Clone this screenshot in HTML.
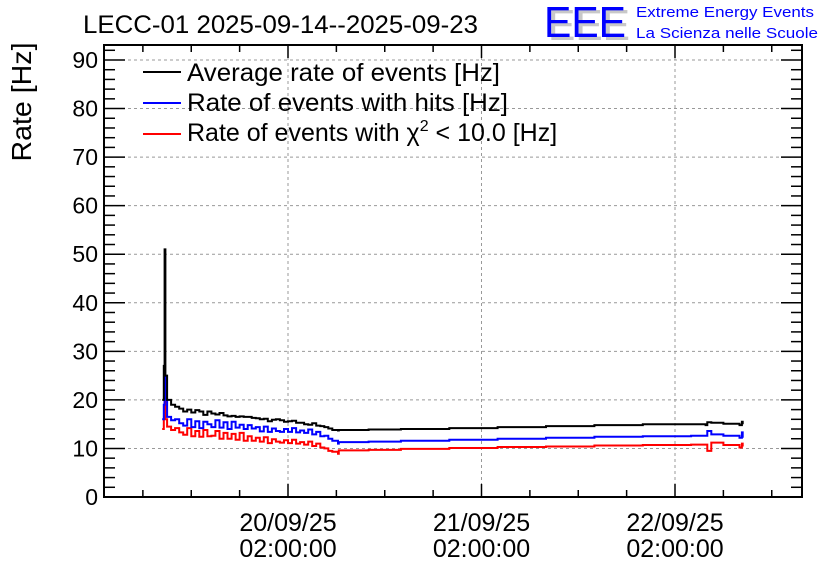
<!DOCTYPE html>
<html><head><meta charset="utf-8"><style>
html,body{margin:0;padding:0;background:#fff}
svg{display:block;font-family:"Liberation Sans",sans-serif}
</style></head><body>
<svg id="chart" width="836" height="572" viewBox="0 0 836 572">
<text x="83" y="33" font-size="25" textLength="395" lengthAdjust="spacingAndGlyphs">LECC-01 2025-09-14--2025-09-23</text>
<g>
<text x="548" y="40" font-size="44" fill="#c8c8c8" textLength="82" lengthAdjust="spacingAndGlyphs">EEE</text>
<text x="544" y="37" font-size="44" fill="#0000ff" textLength="82" lengthAdjust="spacingAndGlyphs">EEE</text>
<text x="636" y="17" font-size="14.5" fill="#0000ff" textLength="178" lengthAdjust="spacingAndGlyphs">Extreme Energy Events</text>
<text x="636" y="38" font-size="14.5" fill="#0000ff" textLength="182" lengthAdjust="spacingAndGlyphs">La Scienza nelle Scuole</text>
</g>
<text transform="translate(31,102) rotate(-90)" text-anchor="middle" font-size="28" textLength="119" lengthAdjust="spacingAndGlyphs">Rate [Hz]</text>
<g id="grid"></g><g id="axes"></g><g id="series"></g>
<g>
<g><line x1="143" y1="72" x2="181" y2="72" stroke="#000" stroke-width="2"/><text x="187" y="81" font-size="25" textLength="313" lengthAdjust="spacingAndGlyphs">Average rate of events [Hz]</text></g>
<g><line x1="143" y1="103" x2="181" y2="103" stroke="#00f" stroke-width="2"/><text x="187" y="111" font-size="25" textLength="321" lengthAdjust="spacingAndGlyphs">Rate of events with hits [Hz]</text></g>
<g><line x1="143" y1="134" x2="181" y2="134" stroke="#f00" stroke-width="2"/><text x="187" y="141" font-size="25">Rate of events with χ<tspan font-size="16" dy="-10">2</tspan><tspan dy="10"> &lt; 10.0 [Hz]</tspan></text></g>
</g>
</svg>
<script>
// hours relative to 20/09/25 02:00:00
const hours = [-15.6,-15.4,-15.3,-15.2,-15.0,-14.5,-14,-13.5,-13,-12.5,-12,-11.5,-11,-10.5,-10,-9.5,-9,-8.5,-8,-7.5,-7,-6.5,-6,-5.5,-5,-4.5,-4,-3.5,-3,-2.5,-2,-1.5,-1,-0.5,0,0.5,1,1.5,2,2.5,3,3.5,4,4.5,5,5.5,6.2,6.3,10,14,20,26,32,38,44,50,51.8,52,52.5,54,56,56.3,56.4];
const avgRate = [20,27,51,25,20,19,18.6,18.2,17.6,18,17.4,17.9,17.6,16.9,17.6,17.2,17.0,17.3,16.8,16.6,16.7,16.5,16.6,16.5,16.5,16.3,16.2,16.0,16.1,15.6,15.9,16.0,15.8,15.5,15.6,15.7,15.3,15.3,15.0,14.9,15.2,14.7,14.6,14.4,14.1,13.8,13.7,13.8,13.9,14.0,14.2,14.4,14.6,14.8,15.0,15.0,14.8,15.4,15.3,15.1,14.8,15.5,15.0];
const hitsRate = [16,19,25,20,16.5,15.8,16,15.2,14.7,16,14.4,15.6,14.2,15.5,15,14.4,15.8,14.3,15.4,14.0,15.5,14.3,14.9,14.0,14.8,14.1,14.4,13.5,14.5,13.4,14.1,13.6,13.4,14.0,13.4,14.2,13.3,13.7,13.2,13.9,12.9,13.4,12.5,12.6,12.0,11.6,11.0,11.3,11.4,11.6,11.8,12.0,12.2,12.4,12.5,12.6,12.6,13.6,12.9,12.6,12.2,13.3,12.2];
const chiRate = [14,16,22,16,14.5,13.8,14.2,13.3,12.8,14.2,12.5,13.6,12.4,13.8,12.5,12.6,13.6,12.0,13.2,12.0,13.0,11.8,13.2,11.6,12.5,11.6,12.2,11.4,12.3,11.1,11.9,11.4,11.2,11.7,11.1,11.8,11.0,11.3,10.8,11.4,10.5,11.0,10.2,10.0,9.5,9.3,8.9,9.6,9.7,9.9,10.1,10.3,10.4,10.6,10.7,10.8,10.8,9.5,11.2,10.7,10.2,11.0,10.4];
const yTicks = [0,10,20,30,40,50,60,70,80,90];
const xTickHours = [0,24,48];
const xTickLabels = [["20/09/25","02:00:00"],["21/09/25","02:00:00"],["22/09/25","02:00:00"]];

const L=104,R=802,T=45,B=497;
const X = h => 288 + h*(675-288)/48;
const Y = v => 497 - v*(497-60)/90;
const NS="http://www.w3.org/2000/svg";
function mk(tag,attrs,parent){const e=document.createElementNS(NS,tag);for(const k in attrs)e.setAttribute(k,attrs[k]);parent.appendChild(e);return e;}
const grid=document.getElementById('grid'), axes=document.getElementById('axes'), series=document.getElementById('series');

yTicks.forEach(v=>{
  const y=Y(v);
  if(v>0){const g=mk('line',{x1:L,x2:R,y1:y,y2:y,stroke:'#999','stroke-dasharray':'3,3','stroke-width':1},grid);
  
  }
  const t=mk('text',{x:L-6,y:y+8,'text-anchor':'end','font-size':23},axes);
  t.textContent=v;
  
  
});
for(let v=0;v<=93;v+=2){const y=Y(v);if(y<T)break;const len=(v%10===0)?21:11;
  mk('line',{x1:L,x2:L+len,y1:y,y2:y,stroke:'#000','stroke-width':1.5},axes);
  mk('line',{x1:R,x2:R-len,y1:y,y2:y,stroke:'#000','stroke-width':1.5},axes);}
xTickHours.forEach((h,i)=>{
  const x=X(h);
  const g=mk('line',{x1:x,x2:x,y1:T,y2:B,stroke:'#999','stroke-dasharray':'3,3','stroke-width':1},grid);
  
  
  const t=mk('text',{x:x,'text-anchor':'middle','font-size':25},axes);
  
  
  const a=mk('tspan',{x:x,y:531},t);a.textContent=xTickLabels[i][0];
  const b=mk('tspan',{x:x,y:557},t);b.textContent=xTickLabels[i][1];
});
for(let h=-24;h<=66;h+=6){const x=X(h);if(x<=L||x>=R)continue;const len=(h%24===0)?13:7;
  mk('line',{x1:x,x2:x,y1:B,y2:B-len,stroke:'#000','stroke-width':1.5},axes);
  mk('line',{x1:x,x2:x,y1:T,y2:T+len,stroke:'#000','stroke-width':1.5},axes);}
const frame=mk('rect',{x:L,y:T,width:R-L,height:B-T,fill:'none',stroke:'#000','stroke-width':2},axes);



function draw(vals,color,name){
  let d='';
  hours.forEach((h,i)=>{const x=X(h).toFixed(1),y=Y(vals[i]).toFixed(1);
    if(i===0)d+='M'+x+' '+y;else d+=' H'+x+' V'+y;});
  const p=mk('path',{d:d,fill:'none',stroke:color,'stroke-width':2},series);
  
  
}
draw(chiRate,'#f00','series-chi2-rate');
draw(hitsRate,'#00f','series-hits-rate');
draw(avgRate,'#000','series-average-rate');
</script>
</body></html>
